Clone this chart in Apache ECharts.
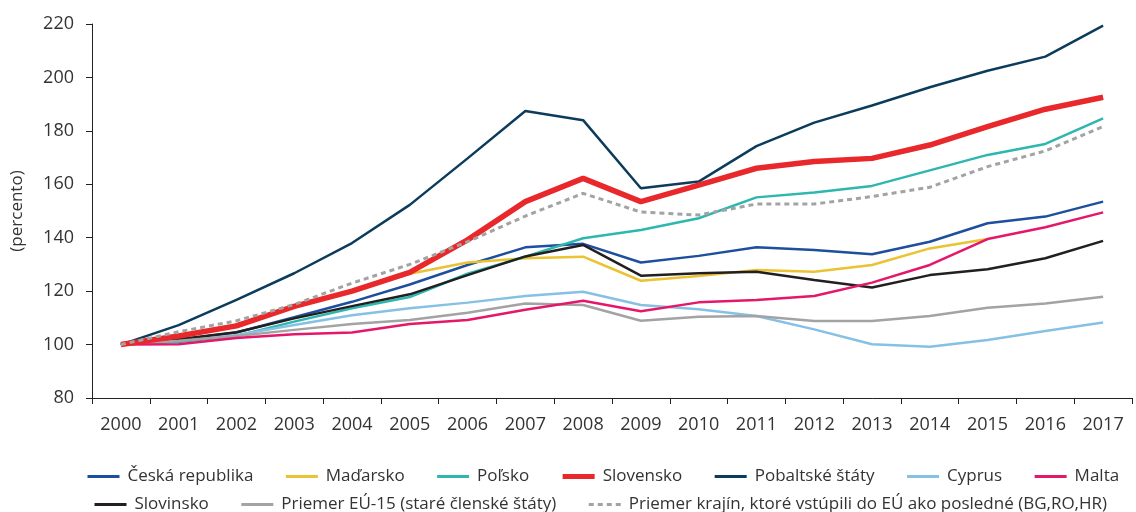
<!doctype html>
<html lang="sk">
<head>
	<meta charset="utf-8" />
	<title>Rast v percentách</title>
	<script src="https://cdn.jsdelivr.net/npm/echarts@6/dist/echarts.min.js"></script>
	<style>
		html, body { margin: 0; padding: 0; background: #fff; }
		#main { width: 1136px; height: 512px; }
	</style>
</head>
<body>
	<div id="main"></div>
	<script>
		// roky na osi x
		var years = ['2000','2001','2002','2003','2004','2005','2006','2007','2008','2009',
			'2010','2011','2012','2013','2014','2015','2016','2017'];

		// hodnoty odčítané z grafu (2000 = 100)
		var cesko = [100, 101.8, 104.5, 110.2, 116, 122.5, 129.8, 136.4, 137.7, 130.7, 133.2, 136.4, 135.4, 133.8, 138.5, 145.4, 147.9, 153.5];
		var madarsko = [100, 103.5, 107.5, 114, 120, 126.5, 130.7, 132.3, 132.9, 123.9, 125.7, 127.9, 127.3, 129.8, 136, 139.5, null, null];
		var polsko = [100, 101, 103.2, 108.6, 113.6, 117.8, 126.5, 132.9, 139.8, 142.9, 147.3, 155.1, 156.9, 159.4, 165.2, 171, 175.1, 184.7];
		var slovensko = [100, 103.2, 107, 114.3, 120, 127, 139.2, 153.5, 162.2, 153.5, 159.7, 166, 168.5, 169.7, 174.7, 181.6, 188.1, 192.6];
		var pobaltie = [100, 107.3, 116.7, 126.7, 138, 152.3, 169.7, 187.4, 184, 158.5, 161, 174.3, 183.1, 189.5, 196.3, 202.5, 207.8, 219.4];
		var cyprus = [100, 101.5, 103.6, 107.3, 111, 113.6, 115.7, 118.2, 119.8, 114.8, 113.2, 110.7, 105.7, 100.1, 99.2, 101.7, 105.1, 108.3];
		var malta = [100, 100.1, 102.5, 103.9, 104.5, 107.7, 109.2, 113, 116.4, 112.5, 115.8, 116.7, 118.2, 123.2, 129.8, 139.5, 143.9, 149.5];
		var slovinsko = [100, 102, 104.6, 109.8, 114.4, 118.8, 126, 133, 137.3, 125.8, 126.7, 127.3, 124.2, 121.4, 126, 128.2, 132.3, 138.8];
		var eu15 = [100, 101.4, 103.2, 105.5, 107.7, 109.2, 111.9, 115.4, 114.8, 108.9, 110.4, 110.7, 108.8, 108.8, 110.7, 113.8, 115.4, 117.9];
		var noveKrajiny = [100, 104.8, 108.9, 115, 123, 130, 138.5, 148.1, 156.6, 149.6, 148.5, 152.6, 152.6, 155.4, 158.9, 166.6, 172.5, 181.6];

		var names = ['Česká republika', 'Maďarsko', 'Poľsko', 'Slovensko', 'Pobaltské štáty', 'Cyprus', 'Malta',
			'Slovinsko', 'Priemer EÚ-15 (staré členské štáty)', 'Priemer krajín, ktoré vstúpili do EÚ ako posledné (BG,RO,HR)'];

		var font = 'Open Sans';
		var textColor = '#333';

		function mkLine(name, data, color, width, dash) {
			return {
				name: name,
				type: 'line',
				data: data,
				symbol: 'none',
				connectNulls: false,
				lineStyle: { color: color, width: width, type: dash ? [5, 4] : 'solid', cap: 'butt' },
				itemStyle: { color: color },
				emphasis: { disabled: true }
			};
		}

		function mkLegend(items, left, top) {
			return {
				data: items.map(function (n) {
					// hrubšia čiara pre Slovensko aj v legende
					return { name: n, lineStyle: { width: n === 'Slovensko' ? 5 : 3 } };
				}),
				left: left, top: top, width: 1048,
				padding: 0,
				itemWidth: 32, itemHeight: 14, itemGap: 31,
				itemStyle: { opacity: 0 },
				textStyle: { fontFamily: font, fontSize: 17, color: textColor, padding: [0, 0, 0, 3] }
			};
		}

		var chart = echarts.init(document.getElementById('main'));
		chart.setOption({
			animation: false,
			textStyle: { fontFamily: font },
			grid: { left: 92, right: 4, top: 24, bottom: 114 },
			legend: [
				mkLegend(names.slice(0, 7), 86, 468),
				mkLegend(names.slice(7), 93, 496)
			],
			xAxis: {
				type: 'category',
				data: years,
				boundaryGap: true,
				axisLine: { lineStyle: { color: '#222', width: 1 } },
				axisTick: { show: true, interval: 0, length: 6, lineStyle: { color: '#222' } },
				axisLabel: { interval: 0, margin: 18, fontSize: 18, color: textColor, fontFamily: font }
			},
			yAxis: {
				type: 'value',
				min: 80, max: 220, interval: 20,
				name: '(percento)',
				nameLocation: 'middle',
				nameGap: 66,
				nameTextStyle: { fontSize: 17, color: textColor, fontFamily: font },
				splitLine: { show: false },
				axisLine: { show: true, lineStyle: { color: '#222', width: 1 } },
				axisTick: { show: true, length: 6, lineStyle: { color: '#222' } },
				axisLabel: { margin: 18, fontSize: 18, color: textColor, fontFamily: font }
			},
			series: [
				mkLine(names[0], cesko, '#1d4f9e', 2.5),
				mkLine(names[1], madarsko, '#eac232', 2.5),
				mkLine(names[2], polsko, '#2db7b0', 2.5),
				mkLine(names[4], pobaltie, '#0c3c5c', 2.5),
				mkLine(names[5], cyprus, '#86c0e4', 2.5),
				mkLine(names[7], slovinsko, '#231f20', 2.5),
				mkLine(names[8], eu15, '#a3a3a3', 2.5),
				mkLine(names[6], malta, '#e5176b', 2.5),
				mkLine(names[3], slovensko, '#e8282b', 5.5),
				mkLine(names[9], noveKrajiny, '#a3a3a3', 3, true)
			]
		});
	</script>
</body>
</html>
